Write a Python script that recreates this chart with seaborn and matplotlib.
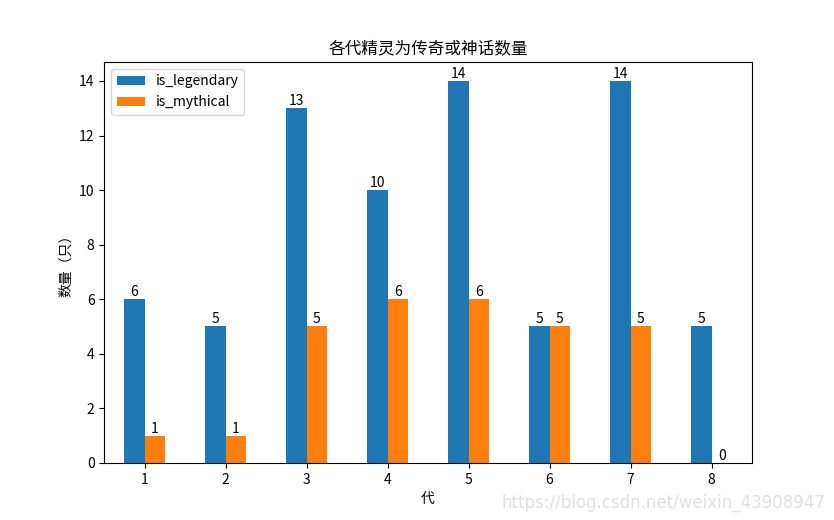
import matplotlib
matplotlib.use("Agg")
import matplotlib.pyplot as plt
import seaborn as sns
import pandas as pd

generations = ["1", "2", "3", "4", "5", "6", "7", "8"]
legendary = [6, 5, 13, 10, 14, 5, 14, 5]
mythical = [1, 1, 5, 6, 6, 5, 5, 0]
series_names = ["is_legendary", "is_mythical"]

plt.rcParams['font.family'] = ['Noto Sans CJK SC', 'DejaVu Sans']
plt.rcParams['axes.unicode_minus'] = False

df = pd.DataFrame({
    "代": generations * 2,
    "数量": legendary + mythical,
    "type": [series_names[0]] * len(generations) + [series_names[1]] * len(generations),
})

fig, ax = plt.subplots(figsize=(8.34, 5.2), dpi=100)
fig.subplots_adjust(left=0.125, right=0.9017, bottom=0.11, top=0.881)

sns.barplot(data=df, x="代", y="数量", hue="type", hue_order=series_names,
            palette=["#1f77b4", "#ff7f0e"], width=0.5, saturation=1, ax=ax,
            errorbar=None)

for cont in ax.containers:
    for bar in cont:
        h = bar.get_height()
        ax.text(bar.get_x() + bar.get_width() / 2, h, f"{int(h)}",
                ha="center", va="bottom", fontsize=10)

ax.set_xlim(-0.5, 7.5)
ax.set_ylim(0, 14.7)
ax.set_title("各代精灵为传奇或神话数量", fontsize=12)
ax.set_xlabel("代", fontsize=10)
ax.set_ylabel("数量（只）", fontsize=10)
ax.legend(title=None, loc="upper left")

fig.text(0.99, 0.015, "https://blog.csdn.net/weixin_43908947", ha="right", va="bottom",
         fontsize=12, color="#e0e0e0", family=['DejaVu Sans'])

fig.savefig("out.png", dpi=100)
